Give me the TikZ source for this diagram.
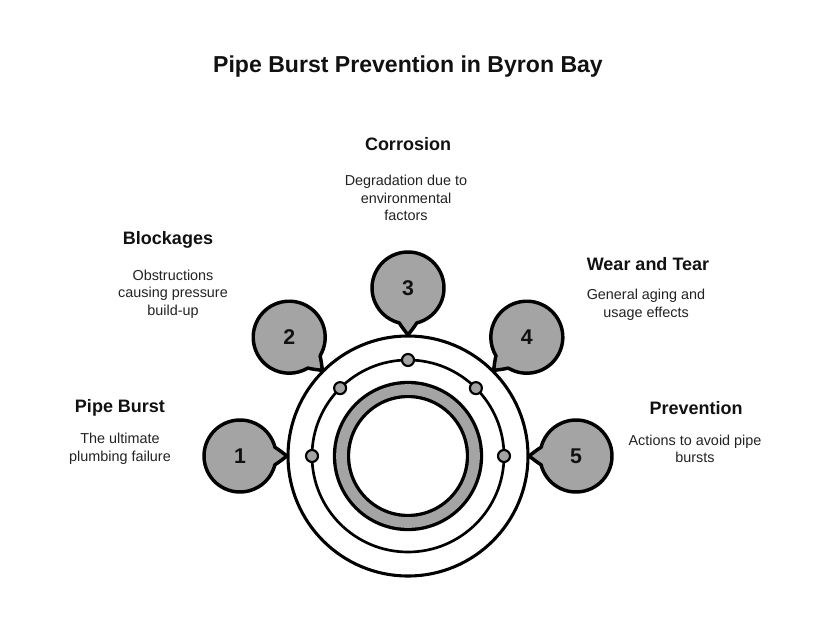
\documentclass[tikz,border=0pt]{standalone}
\usepackage{fontspec}
\setmainfont{Liberation Sans}
\usetikzlibrary{calc}
\definecolor{bgray}{RGB}{164,164,164}
\definecolor{ink}{RGB}{17,17,17}
\definecolor{desc}{RGB}{34,34,34}
\tikzset{
  head/.style={font=\fontsize{13.5}{16}\selectfont\bfseries, text=ink, anchor=center},
  dtext/.style={font=\fontsize{10.8}{13.2}\selectfont, text=desc, align=center, anchor=center},
  num/.style={font=\fontsize{16}{18}\selectfont\bfseries, text=ink},
  bubble/.style={draw=black, fill=bgray, line width=2.6pt, line join=round},
  dot/.style={circle, draw=black, fill=bgray, line width=1.6pt, minimum size=9pt, inner sep=0pt},
}
\begin{document}
\begin{tikzpicture}[x=0.75pt,y=0.75pt]
\useasboundingbox (0,0) rectangle (816,636);
% title
\node[font=\fontsize{17.3}{20}\selectfont\bfseries, text=ink] (title) at (408,569) {Pipe Burst Prevention in Byron Bay};
% central rings
\coordinate (c) at (408,180);
\draw[line width=2.3pt] (c) circle (120);
\draw[line width=2pt] (c) circle (96);
\draw[line width=13pt] (c) circle (66.5);
\draw[line width=8pt, bgray] (c) circle (66.5);
% bubbles
\foreach \a in {180,135,90,45,0}{
  \begin{scope}[shift={(408,180)}, rotate=\a]
    \draw[bubble] (133.07,-8.71) arc[start angle=194, end angle=526, radius=36]
      .. controls (128.5,6) and (124.5,2.5) .. (121,0)
      .. controls (124.5,-2.5) and (128.5,-6) .. cycle;
  \end{scope}
}
% dots on the middle circle
\foreach \a/\n in {180/d1,135/d2,90/d3,45/d4,0/d5}{
  \node[dot] (\n) at ($(408,180)+(\a:96)$) {};
}
% numbers
\node[num] (n1) at (240,180) {1};
\node[num] (n2) at (289.2,298.8) {2};
\node[num] (n3) at (408,348) {3};
\node[num] (n4) at (526.8,298.8) {4};
\node[num] (n5) at (576,180) {5};
% labels
\node[head] (h3) at (408,492) {Corrosion};
\node[dtext] (t3) at (406,438) {Degradation due to\\environmental\\factors};
\node[head] (h2) at (168,396) {Blockages};
\node[dtext] (t2) at (173,342) {Obstructions\\causing pressure\\build-up};
\node[head] (h4) at (648,372) {Wear and Tear};
\node[dtext] (t4) at (646,331) {General aging and\\usage effects};
\node[head] (h1) at (120,228) {Pipe Burst};
\node[dtext] (t1) at (120,187) {The ultimate\\plumbing failure};
\node[head] (h5) at (696,228) {Prevention};
\node[dtext] (t5) at (695,187) {Actions to avoid pipe\\bursts};
\end{tikzpicture}
\end{document}
